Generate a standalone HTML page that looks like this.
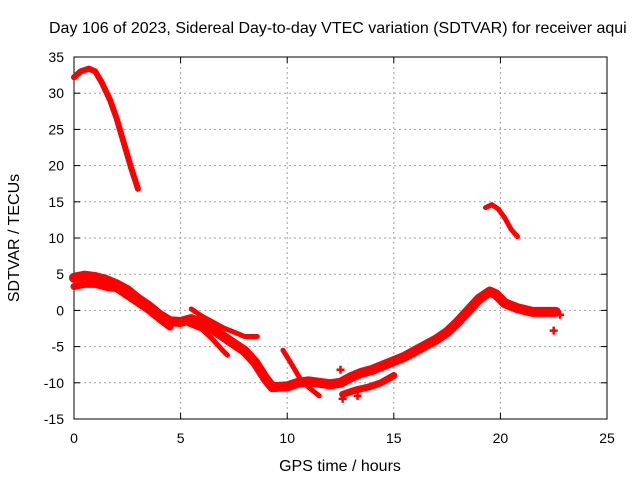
<!DOCTYPE html>
<html><head><meta charset="utf-8"><style>
body{margin:0;background:#fff;}
svg{display:block;font-family:"Liberation Sans",sans-serif;}
</style></head><body>
<svg id="chart" width="640" height="480">
<text x="49" y="33" font-size="16" fill="#000">Day 106 of 2023, Sidereal Day-to-day VTEC variation (SDTVAR) for receiver aqui</text>
<g id="grid"></g>
<g id="axes"></g>
<g id="marks"></g>
<text x="340" y="471" font-size="16" text-anchor="middle">GPS time / hours</text>
<text transform="translate(19,238) rotate(-90)" font-size="16" text-anchor="middle">SDTVAR / TECUs</text>
</svg>
<script>
const xTicks=[0,5,10,15,20,25];
const yTicks=[-15,-10,-5,0,5,10,15,20,25,30,35];
const arcEarly=[[0,32.2],[0.3,33],[0.7,33.4],[1.0,33],[1.3,31.5],[1.7,29],[2.0,26.5],[2.4,22.5],[2.7,19.5],[3.0,16.8]];
const arcLate=[[19.3,14.2],[19.6,14.6],[19.9,14],[20.2,12.8],[20.5,11.2],[20.8,10.2]];
const mainBand=[[0,4.5],[0.5,4.8],[1,4.6],[1.5,4.2],[2,3.6],[2.5,2.8],[3,1.6],[3.5,0.6],[4,-0.6],[4.5,-1.5],[5,-1.6],[5.5,-1.2],[6,-1.8],[6.5,-2.6],[7,-3.6],[7.5,-4.6],[8,-5.6],[8.5,-7.2],[9,-9.5],[9.3,-10.6],[10,-10.5],[10.5,-10],[11,-9.8],[11.5,-10],[12,-10.2],[12.5,-10],[13,-9.2],[13.5,-8.6],[14,-8.2],[14.5,-7.6],[15,-7],[15.5,-6.4],[16,-5.6],[16.5,-4.8],[17,-4],[17.5,-3],[18,-1.6],[18.5,0],[19,1.6],[19.5,2.6],[19.8,2.2],[20.2,1],[20.8,0.3],[21.5,-0.2],[22.2,-0.2],[22.6,-0.2]];
const lowerStrand=[[0,3.3],[0.5,3.6],[1,3.6],[1.5,3.2],[2,3],[2.5,2],[3,1],[3.5,0],[4,-1.2],[4.5,-2.3]];
const dropStrand=[[5,-1.4],[5.5,-2],[6,-2.6],[6.5,-4],[7,-5.6],[7.2,-6.2]];
const upperStrand=[[5.5,0.2],[6,-0.8],[6.5,-1.6],[7,-2.4],[7.5,-3],[8,-3.6],[8.6,-3.6]];
const lateStrand=[[9.8,-5.5],[10.2,-7.4],[10.6,-9.4],[11,-10.6],[11.5,-11.8]];
const lowStrand=[[12.6,-11.6],[13.2,-11],[13.8,-10.6],[14.4,-10],[15,-9]];
const strayPoints=[[22.5,-2.8],[22.8,-0.6],[12.5,-8.2],[12.6,-12.2],[13.3,-11.8]];

const L=74,R=607,T=57,B=419;
const X=v=>L+(v-0)/(25-0)*(R-L);
const Y=v=>B-(v+15)/(35+15)*(B-T);
const NS="http://www.w3.org/2000/svg";
function mk(tag,attrs,parent){const e=document.createElementNS(NS,tag);for(const k in attrs)e.setAttribute(k,attrs[k]);parent.appendChild(e);return e;}
const grid=document.getElementById('grid'),axes=document.getElementById('axes'),marks=document.getElementById('marks');
xTicks.forEach(t=>{
 if(t>0&&t<25){const g=mk('line',{x1:X(t),x2:X(t),y1:T,y2:B,stroke:'#a0a0a0','stroke-dasharray':'2,3'},grid);
 
 }
 mk('line',{x1:X(t),x2:X(t),y1:B,y2:B-6,stroke:'#000'},axes);
 mk('line',{x1:X(t),x2:X(t),y1:T,y2:T+6,stroke:'#000'},axes);
 const tx=mk('text',{x:X(t),y:B+24,'font-size':14,'text-anchor':'middle'},axes);tx.textContent=t;
 
 
});
yTicks.forEach(t=>{
 if(t>-15&&t<35){const g=mk('line',{x1:L,x2:R,y1:Y(t),y2:Y(t),stroke:'#a0a0a0','stroke-dasharray':'2,3'},grid);
 
 }
 mk('line',{x1:L,x2:L+6,y1:Y(t),y2:Y(t),stroke:'#000'},axes);
 mk('line',{x1:R,x2:R-6,y1:Y(t),y2:Y(t),stroke:'#000'},axes);
 const tx=mk('text',{x:L-10,y:Y(t)+5,'font-size':14,'text-anchor':'end'},axes);tx.textContent=t;
 
 
});
mk('rect',{x:L,y:T,width:R-L,height:B-T,fill:'none',stroke:'#000'},axes);
function line(data,w,name){
 const p=mk('polyline',{points:data.map(d=>X(d[0])+','+Y(d[1])).join(' '),fill:'none',stroke:'#ff0000','stroke-width':w,'stroke-linejoin':'round','stroke-linecap':'round'},marks);
 
 
}
line(arcEarly,6,'series-early-arc');
line(arcLate,5,'series-late-arc');
line(mainBand,10,'series-main-band');
line(lowerStrand,7,'series-lower-strand');
line(dropStrand,5,'series-drop-strand');
line(upperStrand,5,'series-upper-strand');
line(lateStrand,5,'series-late-strand');
line(lowStrand,7,'series-low-strand');
strayPoints.forEach(d=>{
 const g=mk('path',{d:`M${X(d[0])-4},${Y(d[1])}h8M${X(d[0])},${Y(d[1])-4}v8`,stroke:'#ff0000','stroke-width':2.5},marks);
 
 
});
</script>
</body></html>
